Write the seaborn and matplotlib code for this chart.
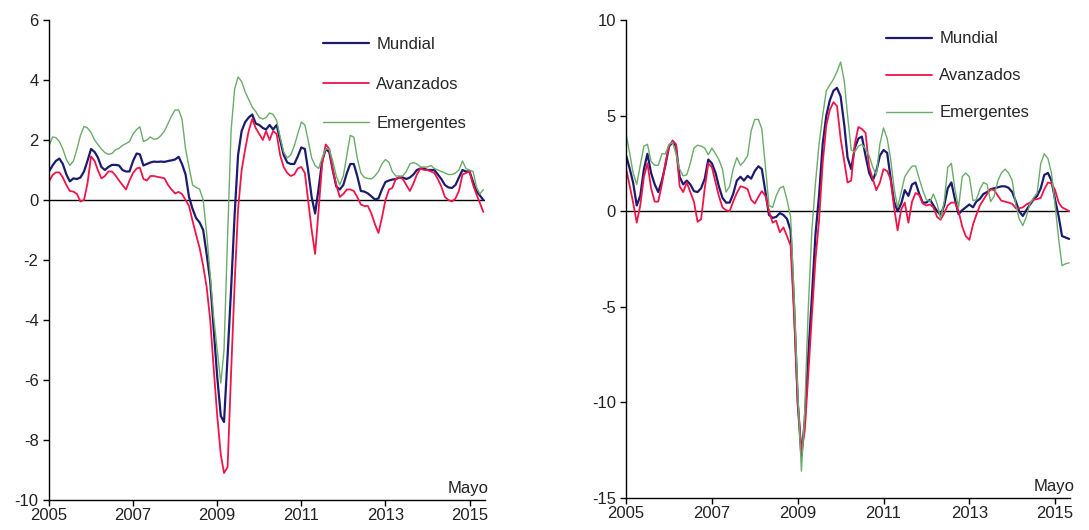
import numpy as np
import pandas as pd
import matplotlib
matplotlib.use("Agg")
import matplotlib.pyplot as plt
import matplotlib.dates as mdates
import seaborn as sns

# Monthly data, Jan 2005 .. May 2015 (125 points)
fechas = pd.date_range("2005-01-01", periods=125, freq="MS")

# Left panel
izq_mundial = [
    0.95, 1.15, 1.3, 1.38, 1.2, 0.85, 0.62, 0.72, 0.7, 0.75,
    0.95, 1.3, 1.7, 1.6, 1.42, 1.1, 1.0, 1.1, 1.17, 1.17,
    1.15, 1.0, 0.95, 0.95, 1.3, 1.55, 1.52, 1.15, 1.2, 1.25,
    1.28, 1.27, 1.28, 1.27, 1.3, 1.32, 1.35, 1.44, 1.2, 0.85,
    0.1, -0.3, -0.6, -0.75, -1.0, -1.8, -2.7, -4.3, -5.9, -7.2,
    -7.4, -5.2, -3.0, -0.5, 1.5, 2.3, 2.6, 2.75, 2.85, 2.55,
    2.5, 2.4, 2.35, 2.5, 2.35, 2.5, 2.0, 1.5, 1.25, 1.2,
    1.2, 1.45, 1.75, 1.7, 1.0, 0.1, -0.45, 0.4, 1.3, 1.7,
    1.6, 1.0, 0.45, 0.35, 0.5, 0.9, 1.2, 1.2, 0.8, 0.3,
    0.28, 0.22, 0.12, 0.02, 0.05, 0.35, 0.6, 0.65, 0.68, 0.7,
    0.75, 0.75, 0.7, 0.75, 0.85, 1.0, 1.05, 1.05, 1.0, 1.0,
    1.0, 0.85, 0.7, 0.5, 0.42, 0.4, 0.5, 0.75, 1.0, 0.95,
    0.95, 0.6, 0.3, 0.15, 0.0,
]
izq_avanzados = [
    0.62, 0.83, 0.92, 0.92, 0.75, 0.5, 0.3, 0.28, 0.2, -0.05,
    0.0, 0.55, 1.45, 1.3, 1.0, 0.72, 0.8, 0.95, 0.95, 0.82,
    0.65, 0.5, 0.35, 0.65, 0.9, 1.05, 1.08, 0.7, 0.65, 0.8,
    0.8, 0.77, 0.75, 0.72, 0.5, 0.35, 0.22, 0.27, 0.2, 0.0,
    -0.2, -0.7, -1.15, -1.6, -2.2, -2.9, -4.0, -5.6, -7.2, -8.5,
    -9.1, -8.9, -5.8, -2.8, -0.3, 1.0, 1.7, 2.3, 2.7, 2.4,
    2.2, 2.0, 2.3, 2.0, 2.3, 2.2, 1.5, 1.1, 0.9, 0.8,
    0.85, 1.05, 1.1, 0.9, 0.0, -1.0, -1.8, -0.3, 1.2, 1.85,
    1.7, 1.0, 0.5, 0.1, 0.2, 0.35, 0.35, 0.3, 0.1, -0.15,
    -0.2, -0.2, -0.45, -0.8, -1.1, -0.6, 0.0, 0.35, 0.4, 0.7,
    0.75, 0.7, 0.5, 0.3, 0.55, 0.85, 1.05, 1.0, 1.0, 0.95,
    0.9, 0.7, 0.45, 0.1, 0.0, -0.05, 0.05, 0.3, 0.85, 0.9,
    0.95, 0.5, 0.2, -0.1, -0.4,
]
izq_emergentes = [
    1.8, 2.1, 2.08, 1.95, 1.7, 1.35, 1.15, 1.3, 1.7, 2.15,
    2.45, 2.4, 2.25, 2.0, 1.85, 1.7, 1.58, 1.52, 1.55, 1.67,
    1.72, 1.82, 1.88, 1.95, 2.2, 2.35, 2.44, 1.95, 2.0, 2.1,
    2.02, 2.05, 2.15, 2.3, 2.55, 2.8, 3.0, 3.0, 2.7, 1.7,
    1.1, 0.5, 0.42, 0.36, 0.0, -1.1, -2.5, -3.9, -5.0, -6.1,
    -5.0, -1.2, 2.3, 3.7, 4.1, 3.95, 3.6, 3.35, 3.1, 2.95,
    2.75, 2.7, 2.75, 2.9, 2.85, 2.65, 2.1, 1.6, 1.4, 1.5,
    1.8, 2.2, 2.6, 2.5, 2.0, 1.4, 1.15, 1.05, 1.4, 1.7,
    1.7, 1.3, 0.8, 0.5, 0.8, 1.5, 2.15, 2.1, 1.4, 0.9,
    0.75, 0.72, 0.7, 0.8, 0.95, 1.2, 1.35, 1.25, 0.95, 0.8,
    0.8, 0.8, 0.95, 1.2, 1.25, 1.2, 1.1, 1.1, 1.1, 1.15,
    1.05, 1.0, 0.95, 0.9, 0.85, 0.85, 0.9, 1.0, 1.3, 1.05,
    1.0, 0.95, 0.45, 0.2, 0.35,
]

# Right panel
der_mundial = [
    2.9, 2.2, 1.5, 0.3, 0.8, 2.2, 3.0, 2.0, 1.4, 1.0,
    1.6, 2.4, 3.4, 3.6, 3.4, 1.8, 1.4, 1.6, 1.4, 1.05,
    1.0, 1.2, 1.7, 2.7, 2.5, 2.0, 1.3, 0.7, 0.45, 0.45,
    0.9, 1.6, 1.8, 1.6, 1.85, 1.7, 2.1, 2.35, 2.2, 1.0,
    -0.2, -0.35, -0.3, -0.1, -0.2, -0.4, -1.0, -5.0, -10.0, -12.8,
    -11.0, -7.5, -4.5, -1.2, 0.8, 3.5, 5.0, 5.8, 6.3, 6.45,
    6.0, 4.5, 2.8, 2.2, 3.3, 3.8, 3.9, 2.9, 2.0, 1.6,
    2.1, 2.9, 3.2, 3.05, 1.8, 0.5, 0.0, 0.4, 1.1, 0.8,
    1.4, 1.5, 0.9, 0.45, 0.45, 0.6, 0.3, 0.0, -0.2, 0.3,
    1.2, 1.5, 0.6, -0.15, 0.05, 0.2, 0.35, 0.2, 0.5, 0.65,
    0.9, 1.0, 1.15, 1.2, 1.25, 1.3, 1.3, 1.22, 1.0, 0.5,
    0.0, -0.25, 0.05, 0.35, 0.6, 0.8, 1.2, 1.9, 2.0, 1.6,
    0.6, -0.3, -1.3, -1.38, -1.45,
]
der_avanzados = [
    2.2, 1.3, 0.45, -0.6, 0.3, 1.8, 2.5, 1.2, 0.5, 0.5,
    1.4, 2.5, 3.4, 3.7, 3.5, 1.3, 1.0, 1.5, 1.0, 0.5,
    -0.56, -0.42, 1.2, 2.5, 2.3, 1.5, 0.8, 0.2, 0.05, 0.0,
    0.5, 0.95, 1.3, 1.25, 1.15, 0.6, 0.4, 0.75, 1.05, 0.8,
    0.0, -0.6, -0.5, -1.1, -0.85, -1.3, -1.8, -5.5, -10.0, -12.6,
    -11.5, -8.5, -5.5, -2.5, -0.5, 2.5, 4.5, 5.3, 5.7, 5.5,
    3.8, 2.6, 1.5, 1.6, 3.5, 4.4, 4.3, 4.1, 2.3, 1.7,
    1.1, 1.5, 2.2, 2.1, 1.7, 0.2, -1.0, 0.1, 0.45, -0.6,
    0.5, 0.95, 0.85, 0.4, 0.3, 0.35, 0.2, -0.3, -0.45, -0.1,
    0.3, 0.45, 0.45, 0.0, -0.8, -1.3, -1.5, -0.7, -0.2, 0.3,
    0.6, 0.9, 1.15, 1.1, 0.8, 0.55, 0.5, 0.45, 0.38, 0.15,
    0.15, 0.2, 0.35, 0.45, 0.6, 0.63, 0.7, 1.15, 1.5, 1.45,
    1.1, 0.45, 0.2, 0.1, 0.0,
]
der_emergentes = [
    4.0, 3.0, 2.0, 1.4, 2.4, 3.4, 3.5, 2.6, 2.4, 2.4,
    3.0, 3.0, 3.5, 3.6, 3.0, 2.2, 1.85, 1.9, 2.5, 3.3,
    3.45, 3.4, 3.3, 2.95, 3.3, 3.0, 2.7, 2.2, 1.0, 1.3,
    2.2, 2.8, 2.4, 2.6, 2.9, 4.2, 4.8, 4.8, 4.3, 2.3,
    0.3, 0.2, 0.8, 1.2, 1.3, 0.6, -0.3, -4.5, -9.5, -13.6,
    -10.5, -5.0, -1.0, 1.5, 3.5, 5.0, 6.3, 6.6, 6.9, 7.3,
    7.8, 6.8, 5.0, 3.2, 3.1, 3.4, 3.5, 3.25, 2.9, 2.3,
    1.9, 3.5, 4.35, 3.8, 2.8, 1.2, 0.2, 1.0, 1.8, 2.1,
    2.35, 2.37, 1.7, 1.1, 0.6, 0.5, 0.9, 0.4, -0.4, 0.5,
    2.3, 2.5, 1.1, 0.2, 1.8, 2.0, 1.8, 0.55, 0.6, 1.15,
    1.5, 1.4, 0.5, 0.8, 1.6, 2.0, 2.2, 2.0, 1.6, 0.3,
    -0.4, -0.75, -0.3, 0.4, 0.7, 0.95, 2.5, 3.0, 2.75, 2.0,
    0.3, -1.5, -2.85, -2.75, -2.7,
]

series = ["Mundial", "Avanzados", "Emergentes"]
colores = {"Mundial": "#1c1c6e", "Avanzados": "#f0144a", "Emergentes": "#6aac6a"}
grosores = {"Mundial": 1.6, "Avanzados": 1.3, "Emergentes": 1.0}
anios_ticks = [2005, 2007, 2009, 2011, 2013, 2015]


def armar_tabla(mundial, avanzados, emergentes):
    return pd.DataFrame({"fecha": fechas, "Mundial": mundial,
                         "Avanzados": avanzados, "Emergentes": emergentes})


def dibujar_panel(ax, tabla, ylim, yticks, pos_leyenda, espacio):
    for s in series:
        sns.lineplot(x="fecha", y=s, data=tabla, ax=ax, color=colores[s],
                     linewidth=grosores[s], label=s)
    ax.axhline(0, color="black", linewidth=1.0, zorder=1)

    ax.set_ylim(*ylim)
    ax.set_yticks(yticks)
    ax.set_xlim(pd.Timestamp("2005-01-01"), pd.Timestamp("2015-05-12"))
    ax.set_xticks([pd.Timestamp(f"{a}-01-01") for a in anios_ticks])
    ax.xaxis.set_major_formatter(mdates.DateFormatter("%Y"))
    ax.set_xlabel("")
    ax.set_ylabel("")

    for lado in ["top", "right"]:
        ax.spines[lado].set_visible(False)
    for lado in ["left", "bottom"]:
        ax.spines[lado].set_color("black")
        ax.spines[lado].set_linewidth(1.0)
    ax.tick_params(axis="both", direction="out", length=4, width=1,
                   color="black", labelsize=12, labelcolor="#222222")
    ax.tick_params(axis="x", pad=2)

    ax.text(1.01, 0.008, "Mayo", transform=ax.transAxes, ha="right",
            va="bottom", fontsize=12, color="#222222")

    ax.legend(loc="upper left", bbox_to_anchor=pos_leyenda, frameon=False,
              fontsize=12, handlelength=2.8, handletextpad=0.42,
              labelspacing=espacio, borderaxespad=0)


sns.set_theme(style="ticks")
plt.rcParams["font.family"] = ["Liberation Sans", "DejaVu Sans"]
plt.rcParams["axes.unicode_minus"] = False

fig = plt.figure(figsize=(10.89, 5.30), dpi=100)
ax_izq = fig.add_axes([0.045, 0.0566, 0.400, 0.9057])
ax_der = fig.add_axes([0.575, 0.0604, 0.408, 0.9019])

dibujar_panel(ax_izq, armar_tabla(izq_mundial, izq_avanzados, izq_emergentes),
              (-10, 6), list(range(-10, 7, 2)), (0.613, 0.978), 1.47)
dibujar_panel(ax_der, armar_tabla(der_mundial, der_avanzados, der_emergentes),
              (-15, 10), list(range(-15, 11, 5)), (0.569, 0.99), 1.32)

fig.savefig("out.png", dpi=100, facecolor="white")
